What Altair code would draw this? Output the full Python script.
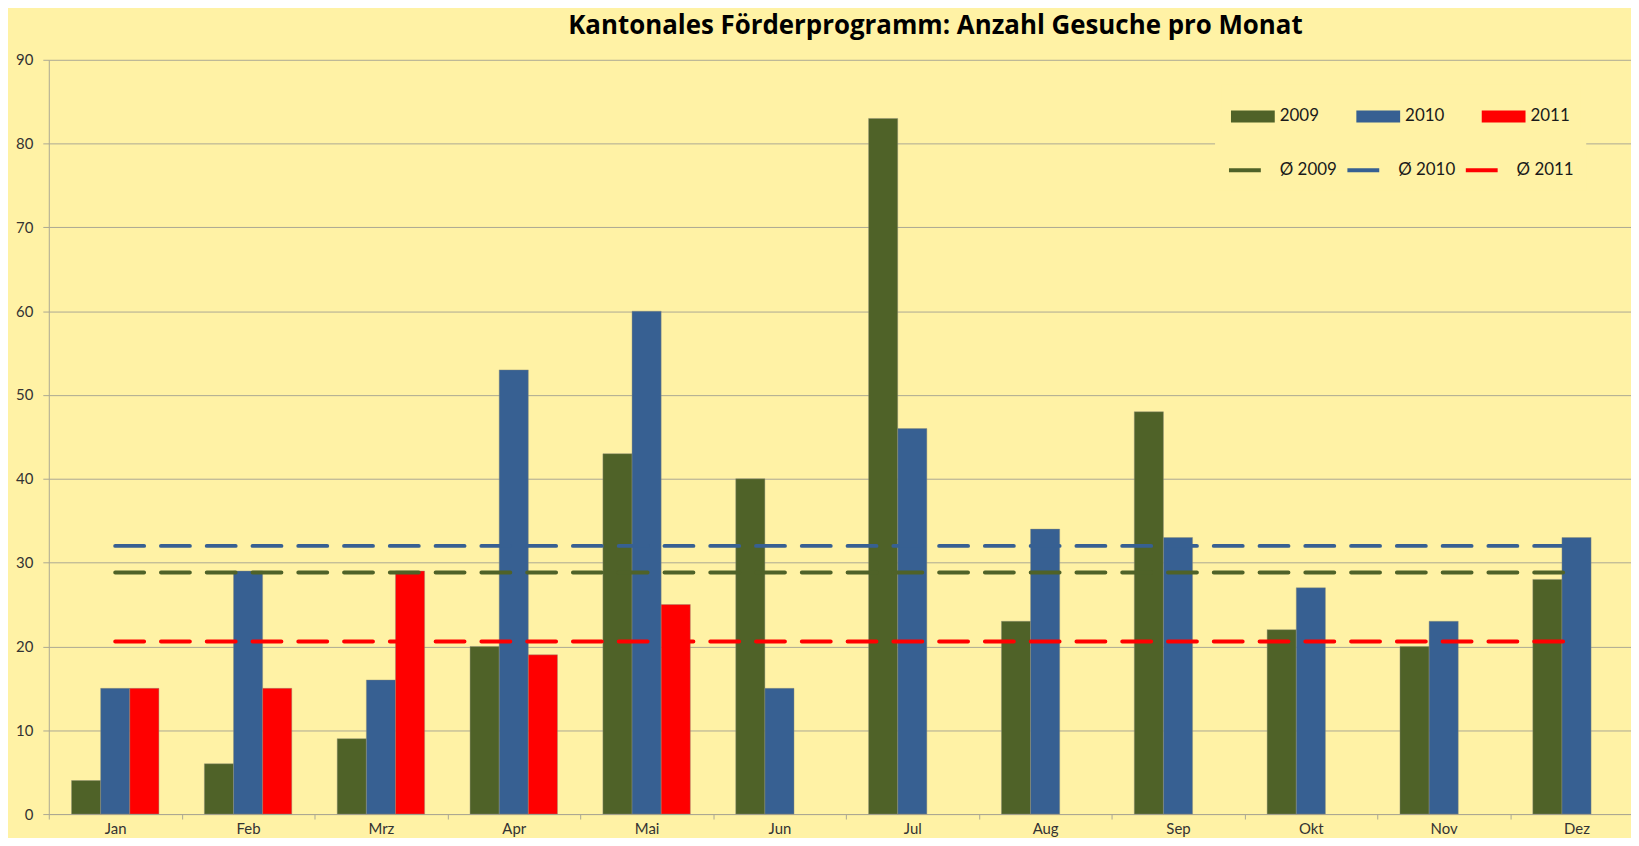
import altair as alt
import pandas as pd

months = ["Jan", "Feb", "Mrz", "Apr", "Mai", "Jun", "Jul", "Aug", "Sep", "Okt", "Nov", "Dez"]
years = ["2009", "2010", "2011"]
v2009 = [4, 6, 9, 20, 43, 40, 83, 23, 48, 22, 20, 28]
v2010 = [15, 29, 16, 53, 60, 15, 46, 34, 33, 27, 23, 33]
v2011 = [15, 15, 29, 19, 25]
avg_labels = ["Ø 2009", "Ø 2010", "Ø 2011"]
y_ticks = [0, 10, 20, 30, 40, 50, 60, 70, 80, 90]

colors = ["#4F6228", "#376092", "#FF0000"]
BG = "#FFF2A5"
GRID = "#ABA893"
FONT = "Lato"
TITLE = "Kantonales Förderprogramm: Anzahl Gesuche pro Monat"

X_RANGE = [0, 1602]

series = {"2009": v2009, "2010": v2010, "2011": v2011}
rows = []
for y, vals in series.items():
    for m, v in zip(months, vals):
        rows.append({"Monat": m, "Jahr": y, "Wert": v})
bars_df = pd.DataFrame(rows)

# average lines run from the first to the last month (position = month index)
avg_rows = []
for lab, (y, vals) in zip(avg_labels, series.items()):
    mean = sum(vals) / len(vals)
    for i in (0, len(months) - 1):
        avg_rows.append({"Index": i, "Serie": lab, "Wert": mean})
avg_df = pd.DataFrame(avg_rows)

y_scale = alt.Scale(domain=[0, 90], nice=False)

x_axis = alt.Axis(
    title=None, grid=False, tickBand="extent", tickSize=5, tickColor=GRID,
    domainColor=GRID, labelFont=FONT, labelFontSize=15, labelColor="#333333",
    labelPadding=3, labelAngle=0,
)
y_axis = alt.Axis(
    title=None, values=y_ticks, grid=True, gridColor=GRID, gridWidth=1,
    domainColor=GRID, tickColor=GRID, tickSize=6, labelFont=FONT,
    labelFontSize=15, labelColor="#333333", labelPadding=10,
)

bars = alt.Chart(bars_df).mark_bar(stroke="#8f8d7a", strokeWidth=0.7, strokeOpacity=0.6).encode(
    x=alt.X("Monat:N", scale=alt.Scale(domain=months, paddingInner=0, paddingOuter=0, range=X_RANGE),
            axis=x_axis, sort=months),
    xOffset=alt.XOffset("Jahr:N", scale=alt.Scale(domain=years, paddingOuter=0.78, paddingInner=0)),
    y=alt.Y("Wert:Q", scale=y_scale, axis=y_axis),
    fill=alt.Fill(
        "Jahr:N",
        scale=alt.Scale(domain=years, range=colors),
        legend=alt.Legend(
            title=None, orient="none", direction="horizontal", columns=3,
            legendX=1178, legendY=25,
            symbolType="M-1,-0.273H1V0.273H-1Z", symbolSize=1936,
            symbolStrokeWidth=0, labelFont=FONT, labelFontSize=17,
            labelColor="#1a1a1a", labelOffset=5, columnPadding=37,
            fillColor=BG, padding=10,
        ),
    ),
)

lines = alt.Chart(avg_df).mark_line(strokeWidth=4, strokeDash=[29, 17], strokeCap="round").encode(
    x=alt.X("Index:Q", scale=alt.Scale(domain=[-0.5, len(months) - 0.5], range=X_RANGE, nice=False, zero=False),
            axis=None),
    y=alt.Y("Wert:Q", scale=y_scale),
    stroke=alt.Stroke(
        "Serie:N",
        scale=alt.Scale(domain=avg_labels, range=colors),
        legend=alt.Legend(
            title=None, orient="none", direction="horizontal", columns=3,
            legendX=1172, legendY=81,
            symbolType="stroke", symbolSize=1024, symbolStrokeWidth=4,
            labelFont=FONT, labelFontSize=17, labelColor="#1a1a1a",
            labelOffset=17, columnPadding=2, padding=12, fillColor=BG,
        ),
    ),
)

chart = (
    alt.layer(bars, lines)
    .resolve_scale(x="independent")
    .properties(
        width=1590,
        height=758,
        background=BG,
        autosize=alt.AutoSizeParams(type="none"),
        padding={"left": 41, "top": 50, "right": 0, "bottom": 22},
        title=alt.TitleParams(
            TITLE, anchor="middle", frame="group", dx=96, offset=14,
            baseline="top", font="Open Sans", fontSize=26, fontWeight="bold",
            color="#000000",
        ),
    )
    .configure_view(strokeWidth=0)
)

chart.save("out.html", embed_options={"renderer": "svg", "actions": False})
